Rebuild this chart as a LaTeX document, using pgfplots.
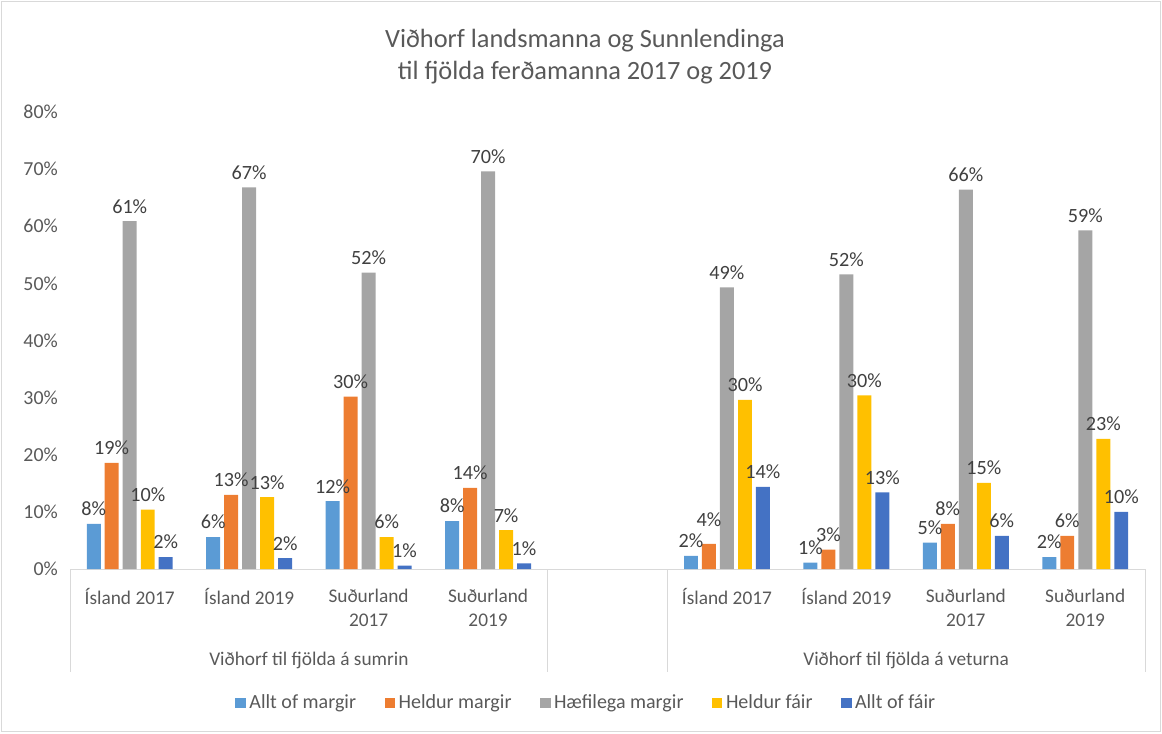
\documentclass[border=0pt]{standalone}
\usepackage{pgfplots}
\usepackage{pgfplotstable}
\pgfplotsset{compat=1.18}
\usepackage{fontspec}
\setmainfont{Carlito}

\definecolor{c1}{HTML}{5B9BD5}
\definecolor{c2}{HTML}{ED7D31}
\definecolor{c3}{HTML}{A5A5A5}
\definecolor{c4}{HTML}{FFC000}
\definecolor{c5}{HTML}{4472C4}
\definecolor{txt}{HTML}{595959}
\definecolor{lbl}{HTML}{404040}
\definecolor{rule}{HTML}{D9D9D9}

% x: 0-3 sumrin, 4 empty, 5-8 veturna; boff = extra label lift (pt) for series b
\pgfplotstableread{
x    a     b     c     d     e     boff
0    7.9   18.6  60.9  10.4  2.1   0
1    5.6   13.0  66.8  12.6  1.9   0
2    11.9  30.2  51.9  5.6   0.6   0
3    8.4   14.2  69.6  6.8   1.0   0
5    2.3   4.4   49.3  29.6  14.4  5.5
6    1.1   3.4   51.6  30.4  13.4  0
7    4.6   7.9   66.4  15.1  5.8   0
8    2.1   5.8   59.3  22.8  10.0  0
}\data

\begin{document}
\begin{tikzpicture}
\path (0,0) rectangle (23.24cm,-14.66cm);
\draw[rule] (0.03cm,-0.03cm) rectangle (23.21cm,-14.63cm);

\node[align=center, text=txt, font=\fontsize{15}{18.2}\selectfont] at (11.7cm,-1.14cm)
  {Viðhorf landsmanna og Sunnlendinga\\til fjölda ferðamanna 2017 og 2019};

\begin{axis}[
    at={(1.4cm,-11.38cm)}, anchor=south west,
    scale only axis, width=21.5cm, height=9.14cm,
    ybar, bar width=0.117,
    xmin=-0.5, xmax=8.5, ymin=0, ymax=80,
    enlargelimits=false, clip=false,
    axis lines*=left,
    x axis line style={rule},
    y axis line style={draw=none},
    tick style={draw=none},
    /pgf/number format/assume math mode=true,
    ytick={0,10,...,80},
    yticklabel={\pgfmathprintnumber{\tick}\%},
    yticklabel style={text=txt, font=\fontsize{11.3}{13.6}\selectfont, xshift=-0.12cm},
    xtick={0,1,2,3,5,6,7,8},
    xticklabels={Ísland 2017, Ísland 2019, {Suðurland\\2017}, {Suðurland\\2019},
                 Ísland 2017, Ísland 2019, {Suðurland\\2017}, {Suðurland\\2019}},
    xticklabel style={align=center, anchor=north, text=txt, font=\fontsize{11}{13.6}\selectfont, yshift=-0.12cm},
    nodes near coords={\pgfmathprintnumber[fixed,precision=0]{\pgfplotspointmeta}\%},
    every node near coord/.append style={text=lbl, font=\fontsize{11.5}{13.6}\selectfont, inner sep=2pt, yshift=0.08cm},
    legend columns=5,
    legend style={draw=none, at={(axis description cs:0.481,-0.293)}, anchor=center,
        font=\fontsize{11.4}{13.6}\selectfont, text=txt,
        /tikz/every even column/.append style={column sep=0.5cm}},
    legend image code/.code={\fill[#1] (0cm,-0.1cm) rectangle (0.21cm,0.1cm);},
]
\addplot[fill=c1, draw=none, bar shift=-0.301] table[x=x, y=a] {\data};
\addplot[fill=c2, draw=none, bar shift=-0.151,
    visualization depends on={\thisrow{boff} \as \boff},
    every node near coord/.append style={yshift=\boff pt}] table[x=x, y=b] {\data};
\addplot[fill=c3, draw=none, bar shift=0] table[x=x, y=c] {\data};
\addplot[fill=c4, draw=none, bar shift=0.151] table[x=x, y=d] {\data};
\addplot[fill=c5, draw=none, bar shift=0.301] table[x=x, y=e] {\data};
\legend{Allt of margir, Heldur margir, Hæfilega margir, Heldur fáir, Allt of fáir}

\draw[rule] (axis cs:-0.5,0) -- (axis cs:-0.5,-18.03);
\draw[rule] (axis cs:3.5,0) -- (axis cs:3.5,-18.03);
\draw[rule] (axis cs:4.5,0) -- (axis cs:4.5,-18.03);
\draw[rule] (axis cs:8.5,0) -- (axis cs:8.5,-18.03);
\node[text=txt, font=\fontsize{11}{13.6}\selectfont] at (axis cs:1.5,-15.93) {Viðhorf til fjölda á sumrin};
\node[text=txt, font=\fontsize{11}{13.6}\selectfont] at (axis cs:6.5,-15.93) {Viðhorf til fjölda á veturna};
\end{axis}
\end{tikzpicture}
\end{document}
